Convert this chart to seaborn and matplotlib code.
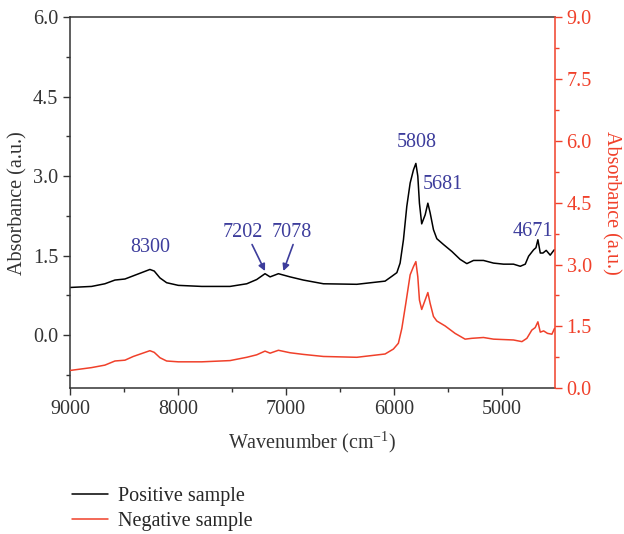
import matplotlib
matplotlib.use("Agg")
import matplotlib.pyplot as plt
import seaborn as sns
import pandas as pd
from matplotlib.ticker import MultipleLocator, FormatStrFormatter

# spectra (wavenumber in cm-1, absorbance a.u.)
pos_wavenumber = [9000, 8799, 8676, 8583, 8490, 8413, 8336, 8259, 8219, 8166, 8104, 7996,
                  7779, 7517, 7362, 7270, 7193, 7146, 7069, 6961, 6838, 6652, 6343, 6081,
                  6019, 5972, 5942, 5911, 5880, 5849, 5818, 5796, 5778, 5763, 5742, 5710,
                  5685, 5664, 5633, 5602, 5540, 5463, 5386, 5324, 5262, 5170, 5077, 4984,
                  4892, 4829, 4783, 4752, 4706, 4684, 4666, 4644, 4619, 4589, 4552, 4515]
pos_absorbance = [0.90, 0.92, 0.97, 1.04, 1.06, 1.12, 1.18, 1.24, 1.21, 1.08, 0.99, 0.94,
                  0.92, 0.92, 0.97, 1.05, 1.16, 1.10, 1.16, 1.10, 1.04, 0.97, 0.96, 1.02,
                  1.11, 1.18, 1.36, 1.80, 2.43, 2.87, 3.12, 3.24, 3.00, 2.49, 2.10, 2.27,
                  2.49, 2.31, 1.99, 1.82, 1.71, 1.58, 1.43, 1.35, 1.41, 1.41, 1.36, 1.34,
                  1.34, 1.30, 1.34, 1.49, 1.61, 1.65, 1.80, 1.55, 1.55, 1.60, 1.51, 1.61]

neg_wavenumber = [9000, 8799, 8676, 8583, 8490, 8413, 8336, 8259, 8219, 8166, 8104, 7996,
                  7779, 7517, 7362, 7270, 7193, 7146, 7069, 6961, 6838, 6652, 6343, 6081,
                  6004, 5958, 5926, 5889, 5849, 5818, 5796, 5778, 5763, 5742, 5710, 5685,
                  5664, 5633, 5602, 5525, 5433, 5340, 5278, 5170, 5077, 4892, 4814, 4768,
                  4722, 4691, 4666, 4644, 4613, 4577, 4536, 4512]
neg_absorbance = [0.43, 0.50, 0.56, 0.66, 0.68, 0.77, 0.84, 0.91, 0.87, 0.74, 0.66, 0.64,
                  0.64, 0.67, 0.75, 0.81, 0.90, 0.85, 0.92, 0.86, 0.82, 0.77, 0.75, 0.83,
                  0.95, 1.09, 1.45, 2.06, 2.75, 2.95, 3.07, 2.70, 2.14, 1.91, 2.14, 2.32,
                  2.06, 1.74, 1.63, 1.51, 1.33, 1.19, 1.21, 1.23, 1.19, 1.17, 1.13, 1.21,
                  1.41, 1.47, 1.61, 1.36, 1.39, 1.33, 1.31, 1.45]

peak_labels = ["8300", "7202", "7078", "5808", "5681", "4671"]
label_x = [8259, 7397, 6943, 5784, 5543, 4709]
label_y = [1.65, 1.93, 1.93, 3.63, 2.84, 1.95]

RED = "#f0402a"
BLUE = "#3d3d9c"
DARK = "#333333"
FS = 14.5

sns.set_theme(style="ticks")
plt.rcParams.update({
    "font.family": ["Liberation Serif", "DejaVu Serif"],
    "font.size": FS,
})

pos_df = pd.DataFrame({"wavenumber": pos_wavenumber, "absorbance": pos_absorbance})
neg_df = pd.DataFrame({"wavenumber": neg_wavenumber, "absorbance": neg_absorbance})

fig = plt.figure(figsize=(6.24, 5.34), dpi=100)
ax = fig.add_axes([0.112, 0.273, 0.777, 0.695])
ax2 = ax.twinx()

sns.lineplot(data=pos_df, x="wavenumber", y="absorbance", ax=ax, color="black",
             lw=1.1, label="Positive sample", legend=False, estimator=None)
sns.lineplot(data=neg_df, x="wavenumber", y="absorbance", ax=ax2, color=RED,
             lw=1.1, label="Negative sample", legend=False, estimator=None)

ax.set_xlim(9000, 4510)
ax.set_ylim(-1.0, 6.0)
ax2.set_ylim(0, 9.0)

ax.xaxis.set_major_locator(MultipleLocator(1000))
ax.xaxis.set_minor_locator(MultipleLocator(500))
ax.yaxis.set_major_locator(MultipleLocator(1.5))
ax.yaxis.set_minor_locator(MultipleLocator(0.75))
ax.yaxis.set_major_formatter(FormatStrFormatter("%.1f"))
ax2.yaxis.set_major_locator(MultipleLocator(1.5))
ax2.yaxis.set_minor_locator(MultipleLocator(0.75))
ax2.yaxis.set_major_formatter(FormatStrFormatter("%.1f"))

ax.tick_params(which="both", direction="out", colors=DARK, labelsize=FS, width=1)
ax.tick_params(which="major", length=5)
ax.tick_params(which="minor", length=3)
ax2.tick_params(which="both", direction="out", colors=RED, labelsize=FS, width=1)
ax2.tick_params(which="major", length=5)
ax2.tick_params(which="minor", length=3)

for side in ["left", "bottom", "top"]:
    ax.spines[side].set_color(DARK)
    ax.spines[side].set_linewidth(1.1)
    ax2.spines[side].set_visible(False)
ax.spines["right"].set_visible(False)
ax2.spines["right"].set_color(RED)
ax2.spines["right"].set_linewidth(1.1)

ax.set_xlabel("Wavenumber (cm$^{\\mathregular{-1}}$)", fontsize=FS, color=DARK, labelpad=7)
ax.set_ylabel("Absorbance (a.u.)", fontsize=FS, color=DARK, labelpad=4)
ax2.set_ylabel("Absorbance (a.u.)", fontsize=FS, color=RED, rotation=270, labelpad=21)

for txt, lx, ly in zip(peak_labels, label_x, label_y):
    ax.text(lx, ly, txt, color=BLUE, fontsize=FS, ha="center", va="center")

arrow_props = dict(arrowstyle="-|>", color=BLUE, lw=1.2, mutation_scale=10,
                   shrinkA=0, shrinkB=0)
ax.annotate("", xy=(7193, 1.21), xytext=(7313, 1.71), arrowprops=arrow_props)
ax.annotate("", xy=(7023, 1.21), xytext=(6933, 1.71), arrowprops=arrow_props)

handles = ax.get_lines()[:1] + ax2.get_lines()[:1]
fig.legend(handles, ["Positive sample", "Negative sample"], loc="upper left",
           bbox_to_anchor=(0.115, 0.088), frameon=False, fontsize=FS,
           handlelength=1.8, handletextpad=0.5, labelspacing=0.3,
           borderpad=0, borderaxespad=0)

fig.savefig("out.png", dpi=100)
